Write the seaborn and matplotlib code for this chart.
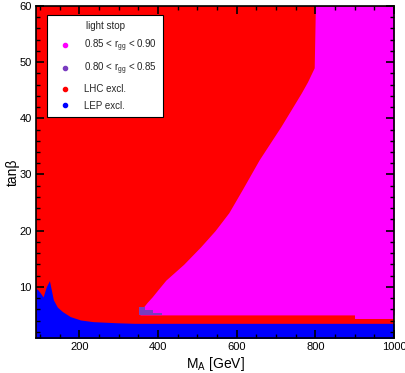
import matplotlib
matplotlib.use("Agg")
import matplotlib.pyplot as plt
from matplotlib.lines import Line2D
from matplotlib.ticker import MultipleLocator
import seaborn as sns

# plot range
ma_range = [90, 1000]
tanb_range = [1, 60]

# LHC boundary (magenta region lies to the right of this curve)
lhc_tanb = [60, 49, 46.5, 44.5, 41.5, 38.5, 35.5, 32.6, 27.3, 23.2, 20.0, 17.1, 14.0, 11.2, 9.5, 8.2, 7.2, 6.4, 5.6, 5.0]
lhc_ma = [800, 797, 780, 764, 738, 712, 684, 657, 614, 580, 545, 508, 465, 420, 400, 385, 372, 363, 357, 354]

# magenta region lower edge for high MA
mag_low_ma = [900, 1000]
mag_low_tanb = [4.3, 5.0]

# purple patch (0.80 < r_gg < 0.85)
pur_ma = [352, 368, 388, 410]
pur_top = [6.4, 5.9, 5.4, 5.4]
pur_bottom = 5.0

# LEP exclusion upper edge
lep_ma = [90, 93, 100, 108, 116, 124, 134, 144, 157, 177, 203, 235, 296, 340, 1000]
lep_tanb = [9.6, 9.6, 9.0, 8.2, 10.0, 11.1, 7.7, 6.4, 5.6, 4.7, 4.1, 3.8, 3.6, 3.5, 3.5]

c_red = "#ff0000"
c_mag = "#ff00ff"
c_pur = "#7a3cc0"
c_blue = "#0000ff"

sns.set_theme(style="ticks")
plt.rcParams["font.family"] = ["Liberation Sans", "DejaVu Sans"]
plt.rcParams["mathtext.fontset"] = "custom"
plt.rcParams["mathtext.rm"] = "Liberation Sans"
plt.rcParams["axes.axisbelow"] = False

fig = plt.figure(figsize=(4.05, 3.73), dpi=100)
ax = fig.add_axes([0.089, 0.094, 0.884, 0.89])
ax.set_axisbelow(False)

# LHC excl. everywhere underneath
ax.fill_between(ma_range, tanb_range[0] - 0.2, tanb_range[1], color=c_red, lw=0, zorder=0)

# magenta region
ax.fill_betweenx(lhc_tanb, lhc_ma, ma_range[1], color=c_mag, lw=0, zorder=0)
ax.fill_between(mag_low_ma, mag_low_tanb[0], mag_low_tanb[1], color=c_mag, lw=0, zorder=0)

# purple patch
ax.fill_between(pur_ma, pur_bottom, pur_top, step="post", color=c_pur, lw=0, zorder=0)

# LEP excl.
ax.fill_between(lep_ma, tanb_range[0] - 0.2, lep_tanb, color=c_blue, lw=0, zorder=0)

ax.set_xlim(ma_range)
ax.set_ylim(tanb_range[0] - 0.1, tanb_range[1])
ax.xaxis.set_major_locator(MultipleLocator(200))
ax.xaxis.set_minor_locator(MultipleLocator(50))
ax.yaxis.set_major_locator(MultipleLocator(10))
ax.yaxis.set_minor_locator(MultipleLocator(2))
ax.tick_params(which="major", direction="in", top=True, right=True,
               bottom=True, left=True, color="black", labelcolor="black",
               labelsize=8, width=1.2, length=6, pad=3)
ax.tick_params(which="minor", direction="in", top=True, right=True,
               bottom=True, left=True, color="black", width=1.0, length=3)
for s in ax.spines.values():
    s.set_color("black")
    s.set_linewidth(1.2)

ax.set_xlabel(r"M$_{\rm A}$ [GeV]", fontsize=10, labelpad=2, color="black")
ax.set_ylabel("tanβ", fontsize=10, labelpad=0, color="black")

handles = [
    Line2D([], [], marker="o", ls="", color=c_mag, markersize=3),
    Line2D([], [], marker="o", ls="", color=c_pur, markersize=3),
    Line2D([], [], marker="o", ls="", color=c_red, markersize=3),
    Line2D([], [], marker="o", ls="", color=c_blue, markersize=3),
]
labels = [
    r"0.85 < r$_{\rm gg}$ < 0.90",
    r"0.80 < r$_{\rm gg}$ < 0.85",
    "LHC excl.",
    "LEP excl.",
]
leg = ax.legend(handles, labels, title="light stop", loc="upper left",
                bbox_to_anchor=(0.031, 0.973), borderaxespad=0,
                fontsize=7, title_fontsize=7, frameon=True,
                fancybox=False, framealpha=1, edgecolor="black",
                labelspacing=0.7, handletextpad=0.7, borderpad=0.6,
                handlelength=2.5)
leg.get_frame().set_linewidth(0.8)
leg.set_zorder(10)

fig.savefig("out.png", dpi=100)
